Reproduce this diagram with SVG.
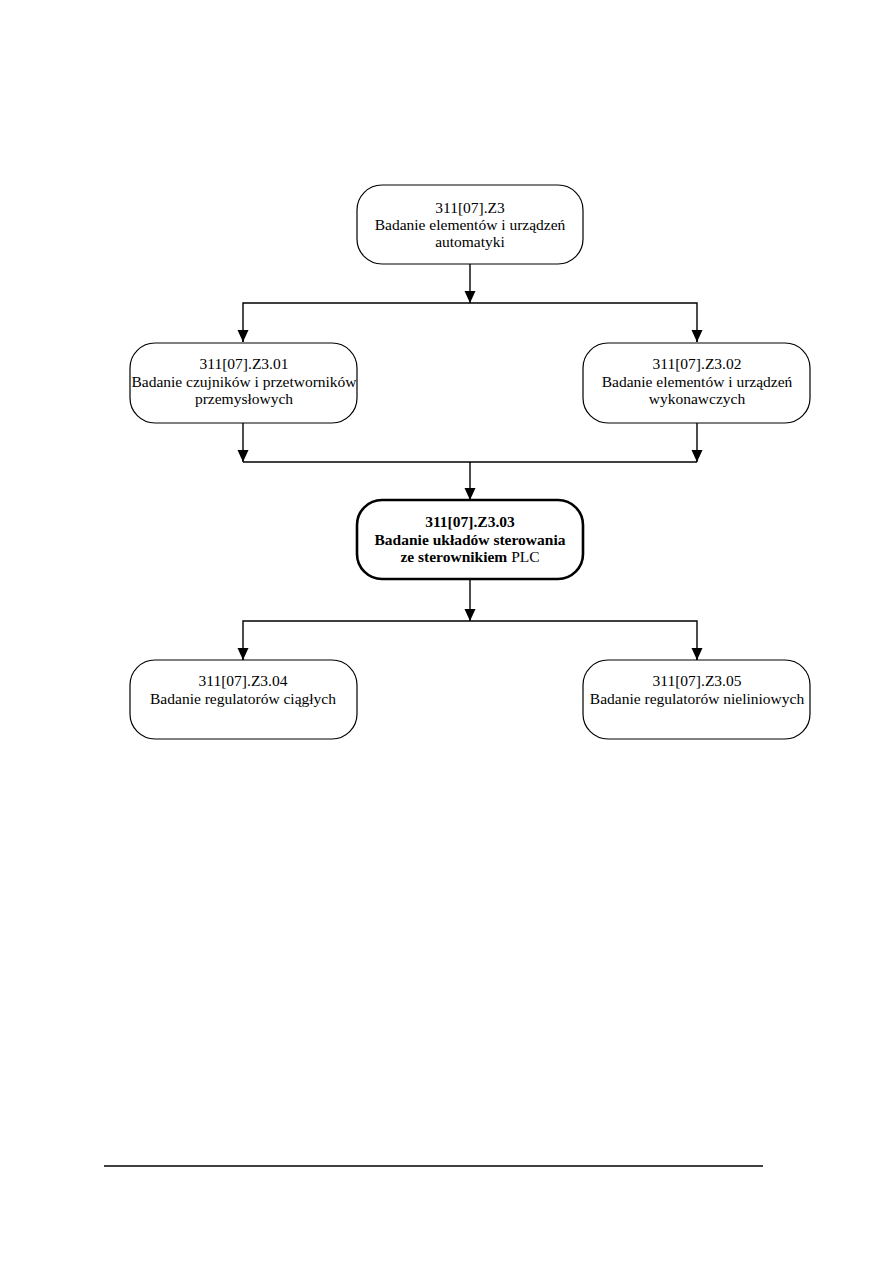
<svg xmlns="http://www.w3.org/2000/svg" width="893" height="1263" viewBox="0 0 893 1263">
<style>
.box{fill:#fff;stroke:#000;stroke-width:1.2}
.bold{stroke-width:2.6}
.t{font-family:"Liberation Serif","Times New Roman",serif;font-size:15.5px;text-anchor:middle;fill:#000}
.b{font-weight:bold}
.ln{fill:none;stroke:#000;stroke-width:1.4}
</style>
<defs>
<marker id="ah" viewBox="0 0 12 12" refX="12" refY="6" markerWidth="12" markerHeight="12" markerUnits="userSpaceOnUse" orient="auto">
<path d="M0,0.5 L12,6 L0,11.5 Z" fill="#000"/>
</marker>
</defs>
<rect width="893" height="1263" fill="#fff"/>
<g id="connectors">
<line class="ln" x1="470" y1="264" x2="470" y2="303" marker-end="url(#ah)"/>
<polyline class="ln" points="243,342 243,303 697,303 697,342"/>
<line class="ln" x1="243" y1="330" x2="243" y2="342" marker-end="url(#ah)"/>
<line class="ln" x1="697" y1="330" x2="697" y2="342" marker-end="url(#ah)"/>
<line class="ln" x1="243" y1="423" x2="243" y2="462" marker-end="url(#ah)"/>
<line class="ln" x1="697" y1="423" x2="697" y2="462" marker-end="url(#ah)"/>
<line class="ln" x1="243" y1="462" x2="697" y2="462"/>
<line class="ln" x1="470" y1="462" x2="470" y2="500" marker-end="url(#ah)"/>
<line class="ln" x1="470" y1="579" x2="470" y2="621" marker-end="url(#ah)"/>
<polyline class="ln" points="243,660 243,621 697,621 697,660"/>
<line class="ln" x1="243" y1="648" x2="243" y2="660" marker-end="url(#ah)"/>
<line class="ln" x1="697" y1="648" x2="697" y2="660" marker-end="url(#ah)"/>
</g>
<g id="n0">
<rect class="box" x="357" y="185" width="226" height="79" rx="25" ry="25"/>
<text class="t" x="470" y="213">311[07].Z3</text>
<text class="t" x="470" y="230">Badanie elementów i urządzeń</text>
<text class="t" x="470" y="247">automatyki</text>
</g>
<g id="n1">
<rect class="box" x="130" y="343" width="227" height="80" rx="25" ry="25"/>
<text class="t" x="244" y="369">311[07].Z3.01</text>
<text class="t" x="244" y="387">Badanie czujników i przetworników</text>
<text class="t" x="244" y="404">przemysłowych</text>
</g>
<g id="n2">
<rect class="box" x="583" y="343" width="227" height="80" rx="25" ry="25"/>
<text class="t" x="697" y="369">311[07].Z3.02</text>
<text class="t" x="697" y="387">Badanie elementów i urządzeń</text>
<text class="t" x="697" y="404">wykonawczych</text>
</g>
<g id="n3">
<rect class="box bold" x="357" y="500" width="226" height="79" rx="25" ry="25"/>
<text class="t b" x="470" y="527">311[07].Z3.03</text>
<text class="t b" x="470" y="545">Badanie układów sterowania</text>
<text class="t" x="470" y="562"><tspan class="b">ze sterownikiem</tspan> PLC</text>
</g>
<g id="n4">
<rect class="box" x="130" y="660" width="227" height="79" rx="25" ry="25"/>
<text class="t" x="243" y="686">311[07].Z3.04</text>
<text class="t" x="243" y="704">Badanie regulatorów ciągłych</text>
</g>
<g id="n5">
<rect class="box" x="583" y="660" width="227" height="79" rx="25" ry="25"/>
<text class="t" x="697" y="686">311[07].Z3.05</text>
<text class="t" x="697" y="704">Badanie regulatorów nieliniowych</text>
</g>
<line x1="104" y1="1166" x2="763" y2="1166" stroke="#000" stroke-width="1.4"/>
</svg>
